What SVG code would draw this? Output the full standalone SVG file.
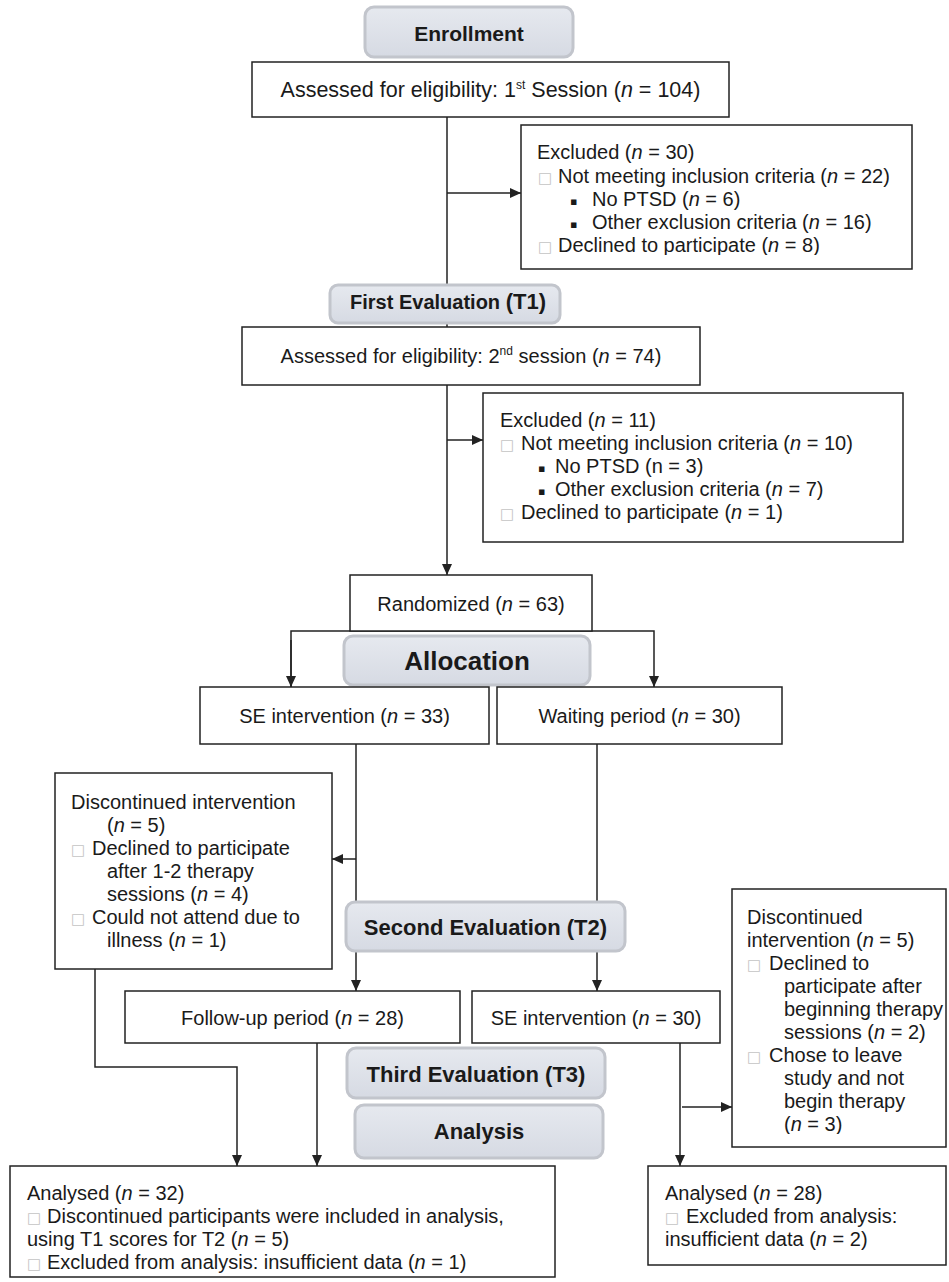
<svg xmlns="http://www.w3.org/2000/svg" width="949" height="1282" viewBox="0 0 949 1282">
<style>
.t{font-family:"Liberation Sans",Arial,sans-serif;font-size:20px;fill:#1a1a1a}
.c{text-anchor:middle}
.b{font-weight:bold}
.box{fill:#fff;stroke:#222;stroke-width:1.5}
.hdr{fill:url(#hg);stroke:#c2c5cc;stroke-width:3}
.cb{font-family:"DejaVu Sans",sans-serif;font-size:15px;fill:#c4c4c4}
.bl{font-family:"DejaVu Sans",sans-serif;font-size:11px;fill:#1a1a1a}
.i{font-style:italic}
.conn{stroke:#222;stroke-width:1.5;fill:none}
.sup{font-size:12px}
</style>
<defs>
<linearGradient id="hg" x1="0" y1="0" x2="0" y2="1">
<stop offset="0" stop-color="#e6e9ef"/>
<stop offset="1" stop-color="#d6dae3"/>
</linearGradient>
<marker id="ah" markerUnits="userSpaceOnUse" markerWidth="11" markerHeight="10" refX="11" refY="5" orient="auto">
<path d="M0,0 L11,5 L0,10 z" fill="#222"/>
</marker>
<clipPath id="clipEx1"><rect x="521" y="125" width="391" height="130"/></clipPath>
<clipPath id="clipRt"><rect x="732" y="889" width="214" height="245"/></clipPath>
</defs>
<rect width="949" height="1282" fill="#fff"/>

<g id="connectors">
<line class="conn" x1="447" y1="117" x2="447" y2="327"/>
<line class="conn" x1="447" y1="193" x2="521" y2="193" marker-end="url(#ah)"/>
<line class="conn" x1="447" y1="385" x2="447" y2="575" marker-end="url(#ah)"/>
<line class="conn" x1="447" y1="440" x2="483" y2="440" marker-end="url(#ah)"/>
<polyline class="conn" points="291,687 291,631 654,631 654,687" marker-end="url(#ah)"/>
<line class="conn" x1="291" y1="640" x2="291" y2="687" marker-end="url(#ah)"/>
<line class="conn" x1="356" y1="744" x2="356" y2="991" marker-end="url(#ah)"/>
<line class="conn" x1="356" y1="859" x2="332" y2="859" marker-end="url(#ah)"/>
<line class="conn" x1="597" y1="744" x2="597" y2="991" marker-end="url(#ah)"/>
<polyline class="conn" points="95,969 95,1067 237,1067 237,1166" marker-end="url(#ah)"/>
<line class="conn" x1="317" y1="1043" x2="317" y2="1166" marker-end="url(#ah)"/>
<line class="conn" x1="680" y1="1043" x2="680" y2="1166" marker-end="url(#ah)"/>
<line class="conn" x1="682" y1="1107" x2="732" y2="1107" marker-end="url(#ah)"/>
</g>

<g id="enrollment">
<rect class="hdr" x="365" y="7" width="208" height="50" rx="9"/>
<text class="t c b" x="469" y="41" style="font-size:21px">Enrollment</text>
</g>

<g id="assessed1">
<rect class="box" x="252" y="62" width="477" height="55"/>
<text class="t c" x="490.5" y="97" style="font-size:21.5px">Assessed for eligibility: 1<tspan class="sup" dy="-8">st</tspan><tspan dy="8"> Session (</tspan><tspan class="i">n</tspan> = 104)</text>
</g>

<g id="excluded1">
<rect class="box" x="521" y="125" width="391" height="144"/>
<g clip-path="url(#clipEx1)">
<text class="t" x="537" y="159">Excluded (<tspan class="i">n</tspan> = 30)</text>
<text class="t" x="538" y="183"><tspan class="cb">□</tspan><tspan x="558">Not meeting inclusion criteria (</tspan><tspan class="i">n</tspan> = 22)</text>
<text class="t" x="570" y="205"><tspan class="bl">▪</tspan><tspan x="592" y="206">No PTSD (</tspan><tspan class="i">n</tspan> = 6)</text>
<text class="t" x="570" y="228"><tspan class="bl">▪</tspan><tspan x="592" y="229">Other exclusion criteria (</tspan><tspan class="i">n</tspan> = 16)</text>
<text class="t" x="538" y="252"><tspan class="cb">□</tspan><tspan x="558">Declined to participate (</tspan><tspan class="i">n</tspan> = 8)</text>
</g>
</g>

<g id="first-evaluation">
<rect class="hdr" x="330" y="285" width="230" height="38" rx="8"/>
<text class="t c b" x="448" y="309">First Evaluation <tspan style="font-size:22px">(T1)</tspan></text>
</g>

<g id="assessed2">
<rect class="box" x="242" y="327" width="458" height="58"/>
<text class="t c" x="471" y="363">Assessed for eligibility: 2<tspan class="sup" dy="-8">nd</tspan><tspan dy="8"> session (</tspan><tspan class="i">n</tspan> = 74)</text>
</g>

<g id="excluded2">
<rect class="box" x="483" y="393" width="420" height="149"/>
<text class="t" x="500" y="427">Excluded (<tspan class="i">n</tspan> = 11)</text>
<text class="t" x="500" y="450"><tspan class="cb">□</tspan><tspan x="521">Not meeting inclusion criteria (</tspan><tspan class="i">n</tspan> = 10)</text>
<text class="t" x="538" y="472"><tspan class="bl">▪</tspan><tspan x="555" y="473">No PTSD (n = 3)</tspan></text>
<text class="t" x="538" y="495"><tspan class="bl">▪</tspan><tspan x="555" y="496">Other exclusion criteria (</tspan><tspan class="i">n</tspan> = 7)</text>
<text class="t" x="500" y="519"><tspan class="cb">□</tspan><tspan x="521">Declined to participate (</tspan><tspan class="i">n</tspan> = 1)</text>
</g>

<g id="randomized">
<rect class="box" x="350" y="575" width="242" height="56"/>
<text class="t c" x="471" y="611">Randomized (<tspan class="i">n</tspan> = 63)</text>
</g>

<g id="allocation">
<rect class="hdr" x="344" y="636" width="246" height="49" rx="9"/>
<text class="t c b" x="467" y="670" style="font-size:26px">Allocation</text>
</g>

<g id="se-intervention-33">
<rect class="box" x="200" y="687" width="289" height="57"/>
<text class="t c" x="344.5" y="723">SE intervention (<tspan class="i">n</tspan> = 33)</text>
</g>

<g id="waiting-period">
<rect class="box" x="497" y="687" width="285" height="57"/>
<text class="t c" x="639.5" y="723">Waiting period (<tspan class="i">n</tspan> = 30)</text>
</g>

<g id="discontinued-left">
<rect class="box" x="55" y="773" width="277" height="196"/>
<text class="t" x="71" y="809">Discontinued intervention</text>
<text class="t" x="107" y="832">(<tspan class="i">n</tspan> = 5)</text>
<text class="t" x="71" y="855"><tspan class="cb">□</tspan><tspan x="92">Declined to participate</tspan></text>
<text class="t" x="107" y="878">after 1-2 therapy</text>
<text class="t" x="107" y="901">sessions (<tspan class="i">n</tspan> = 4)</text>
<text class="t" x="71" y="924"><tspan class="cb">□</tspan><tspan x="92">Could not attend due to</tspan></text>
<text class="t" x="107" y="947">illness (<tspan class="i">n</tspan> = 1)</text>
</g>

<g id="second-evaluation">
<rect class="hdr" x="346" y="902" width="279" height="49" rx="9"/>
<text class="t c b" x="485.5" y="935" style="font-size:22px">Second Evaluation (T2)</text>
</g>

<g id="discontinued-right">
<rect class="box" x="732" y="889" width="214" height="258"/>
<g clip-path="url(#clipRt)">
<text class="t" x="747" y="924">Discontinued</text>
<text class="t" x="747" y="947">intervention (<tspan class="i">n</tspan> = 5)</text>
<text class="t" x="747" y="970"><tspan class="cb">□</tspan><tspan x="769">Declined to</tspan></text>
<text class="t" x="784" y="993">participate after</text>
<text class="t" x="784" y="1016">beginning therapy</text>
<text class="t" x="784" y="1039">sessions (<tspan class="i">n</tspan> = 2)</text>
<text class="t" x="747" y="1062"><tspan class="cb">□</tspan><tspan x="769">Chose to leave</tspan></text>
<text class="t" x="784" y="1085">study and not</text>
<text class="t" x="784" y="1108">begin therapy</text>
<text class="t" x="784" y="1131">(<tspan class="i">n</tspan> = 3)</text>
</g>
</g>

<g id="follow-up">
<rect class="box" x="125" y="991" width="335" height="52"/>
<text class="t c" x="292.5" y="1025">Follow-up period (<tspan class="i">n</tspan> = 28)</text>
</g>

<g id="se-intervention-30">
<rect class="box" x="472" y="991" width="248" height="52"/>
<text class="t c" x="596" y="1025">SE intervention (<tspan class="i">n</tspan> = 30)</text>
</g>

<g id="third-evaluation">
<rect class="hdr" x="347" y="1048" width="258" height="50" rx="9"/>
<text class="t c b" x="476" y="1082" style="font-size:22px">Third Evaluation (T3)</text>
</g>

<g id="analysis">
<rect class="hdr" x="355" y="1105" width="248" height="53" rx="9"/>
<text class="t c b" x="479" y="1139" style="font-size:22px">Analysis</text>
</g>

<g id="analysed-left">
<rect class="box" x="10" y="1166" width="545" height="111"/>
<text class="t" x="27" y="1200">Analysed (<tspan class="i">n</tspan> = 32)</text>
<text class="t" x="27" y="1223"><tspan class="cb">□</tspan><tspan x="47">Discontinued participants were included in analysis,</tspan></text>
<text class="t" x="27" y="1246">using T1 scores for T2 (<tspan class="i">n</tspan> = 5)</text>
<text class="t" x="27" y="1269"><tspan class="cb">□</tspan><tspan x="47">Excluded from analysis: insufficient data (</tspan><tspan class="i">n</tspan> = 1)</text>
</g>

<g id="analysed-right">
<rect class="box" x="648" y="1166" width="298" height="99"/>
<text class="t" x="665" y="1200">Analysed (<tspan class="i">n</tspan> = 28)</text>
<text class="t" x="665" y="1223"><tspan class="cb">□</tspan><tspan x="686">Excluded from analysis:</tspan></text>
<text class="t" x="665" y="1246">insufficient data (<tspan class="i">n</tspan> = 2)</text>
</g>
</svg>
